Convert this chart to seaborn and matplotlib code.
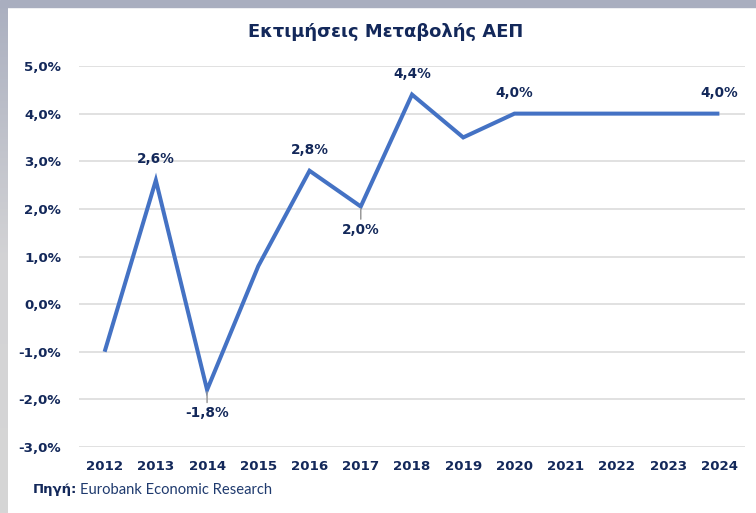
import numpy as np
import seaborn as sns
import matplotlib.pyplot as plt
from matplotlib.patches import Rectangle
from matplotlib.ticker import FuncFormatter

# data
years = [2012, 2013, 2014, 2015, 2016, 2017, 2018, 2019, 2020, 2021, 2022, 2023, 2024]
gdp_change = [-1.0, 2.6, -1.8, 0.8, 2.8, 2.05, 4.4, 3.5, 4.0, 4.0, 4.0, 4.0, 4.0]
label_years = [2013, 2014, 2016, 2017, 2018, 2020, 2024]
label_text = ["2,6%", "-1,8%", "2,8%", "2,0%", "4,4%", "4,0%", "4,0%"]
label_below = [False, True, False, True, False, False, False]

title = "Εκτιμήσεις Μεταβολής ΑΕΠ"
source_bold = "Πηγή:"
source_text = "Eurobank Economic Research"

navy = "#13285a"
line_blue = "#4472C4"
grid_grey = "#d9d9d9"

sns.set_style("white")
plt.rcParams["font.family"] = ["DejaVu Sans"]

fig = plt.figure(figsize=(7.56, 5.13), dpi=100)
fig.patch.set_facecolor("white")

# grey frame at top and left like the screenshot
fig.patches.append(Rectangle((0, 1 - 7 / 513), 1, 7 / 513, transform=fig.transFigure,
                             color="#a9aebf", zorder=0))
strip = fig.add_axes([0, 0, 8 / 756, 1 - 7 / 513])
grad = np.linspace(0, 1, 256).reshape(-1, 1)
strip.imshow(grad, aspect="auto", cmap=sns.blend_palette(["#abb0c0", "#d3d3d5", "#d6d6d6"], as_cmap=True))
strip.set_axis_off()

ax = fig.add_axes([79 / 756, 1 - 447 / 513, (745 - 79) / 756, (447 - 66) / 513])
sns.lineplot(x=years, y=gdp_change, ax=ax, color=line_blue, linewidth=2.9,
             solid_joinstyle="miter", solid_capstyle="butt", zorder=3)

ax.set_xlim(2011.5, 2024.5)
ax.set_ylim(-3, 5)
ax.set_yticks(np.arange(-3, 5.1, 1))
ax.set_xticks(years)
ax.yaxis.set_major_formatter(FuncFormatter(lambda v, p: f"{v:.1f}%".replace(".", ",")))
ax.grid(axis="y", color=grid_grey, linewidth=1.1)
ax.grid(axis="x", visible=False)
for s in ax.spines.values():
    s.set_visible(False)
ax.tick_params(axis="y", length=0, pad=13, labelsize=9.6, labelcolor=navy)
ax.tick_params(axis="x", length=0, pad=9, labelsize=9.6, labelcolor=navy)
for t in ax.get_xticklabels() + ax.get_yticklabels():
    t.set_fontweight("bold")
ax.set_xlabel("")
ax.set_ylabel("")

# data labels
for yr, txt, below in zip(label_years, label_text, label_below):
    val = gdp_change[years.index(yr)]
    if below:
        ax.annotate(txt, xy=(yr, val), xytext=(0, -17), textcoords="offset points",
                    ha="center", va="center", fontsize=9.8, fontweight="bold", color=navy,
                    arrowprops=dict(arrowstyle="-", color="#9a9a9a", lw=1.1,
                                    shrinkA=0.5, shrinkB=1.5))
    else:
        ax.annotate(txt, xy=(yr, val), xytext=(0, 15), textcoords="offset points",
                    ha="center", va="center", fontsize=9.8, fontweight="bold", color=navy)

fig.text(386 / 756, 1 - 32 / 513, title, ha="center", va="center",
         fontsize=12.9, fontweight="bold", color=navy)
fig.text(33 / 756, 1 - 490 / 513, source_bold, ha="left", va="center",
         fontsize=9.5, fontweight="bold", color=navy)
fig.text(80 / 756, 1 - 490 / 513, source_text, ha="left", va="center",
         fontsize=10.6, color="#1f3a6e", family=["Lato", "DejaVu Sans"])

fig.savefig("out.png", dpi=100)
